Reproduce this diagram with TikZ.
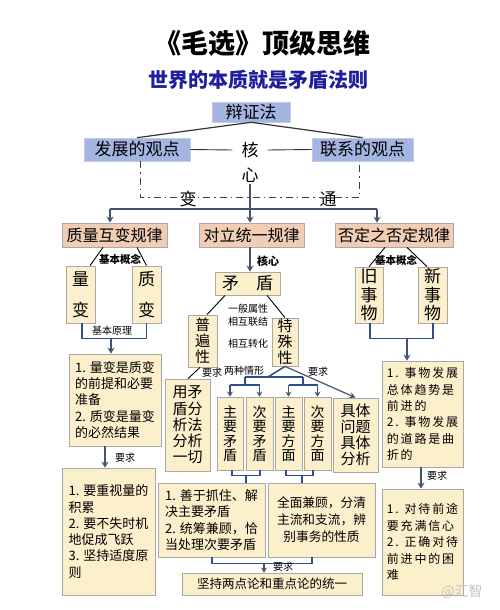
\documentclass[tikz,border=0pt]{standalone}
\usepackage{fontspec}
\setmainfont{Noto Sans CJK SC}
\newfontfamily\cjksp[LetterSpace=15]{Noto Sans CJK SC}
\usetikzlibrary{arrows.meta}
\definecolor{bluebox}{HTML}{A3B5E0}
\definecolor{peach}{HTML}{F1CDB6}
\definecolor{ylw}{HTML}{FCEFCB}
\definecolor{bdr}{HTML}{A8A8A8}
\definecolor{navy}{HTML}{2F4C92}
\definecolor{arr}{HTML}{45536E}
\definecolor{subt}{HTML}{1E1E9E}
\definecolor{wm}{HTML}{C4C4C4}
\begin{document}
\begin{tikzpicture}[x=1pt,y=-1pt,
  bbox/.style={fill=bluebox, draw=bluebox!70!white, line width=0.6pt, inner sep=0pt, font=\fontsize{17}{20}\selectfont},
  pbox/.style={fill=peach, draw=bdr, line width=0.8pt, inner sep=0pt, font=\fontsize{16}{19}\selectfont},
  ybox/.style={fill=ylw, draw=bdr, line width=0.8pt, inner sep=0pt, align=center},
  lbl/.style={inner sep=0pt, font=\fontsize{10}{12}\selectfont},
  arrw/.style={arr, line width=1.5pt, -{Stealth[length=6pt,width=7pt]}},
  arrs/.style={arr, line width=1.3pt, -{Stealth[length=5pt,width=6pt]}},
  brk/.style={navy, line width=1.5pt},
  conn/.style={black, line width=0.9pt},
]
\useasboundingbox (0,0) rectangle (500,610);
\fill[white] (0,0) rectangle (500,610);

% titles
\node[font=\fontsize{27}{30}\selectfont\bfseries] (title) at (262,43) {《毛选》顶级思维};
\node[font=\fontsize{20}{24}\selectfont\bfseries, text=subt] (sub) at (258,80) {世界的本质就是矛盾法则};

% top level
\node[bbox, minimum width=78pt, minimum height=20pt] (bz) at (251,112) {辩证法};
\node[bbox, minimum width=106pt, minimum height=23pt] (fz) at (137,149.5) {发展的观点};
\node[bbox, minimum width=101pt, minimum height=23pt] (lx) at (362.5,149.5) {联系的观点};
\node[inner xsep=9pt, inner ysep=1pt, font=\fontsize{17}{20}\selectfont] (he) at (250,150) {核};
\node[inner sep=1pt, font=\fontsize{17}{20}\selectfont] (xin) at (250,175) {心};
\node[inner sep=0pt, font=\fontsize{17}{20}\selectfont] (bian) at (188,199) {变};
\node[inner sep=0pt, font=\fontsize{17}{20}\selectfont] (tong) at (328,199) {通};

\draw[conn, line width=1.2pt, black!80] (bz.south) -- (fz.north);
\draw[conn, line width=1.2pt, black!80] (bz.south) -- (lx.north);
\draw[conn, black!80] (fz.east) -- (he.west);
\draw[conn, black!80] (he.east) -- (lx.west);
\draw[black!75, line width=1pt, dash pattern=on 7pt off 4pt on 1.5pt off 4pt]
  ([xshift=3pt]fz.south) -- ++(0,36) -| ([xshift=-3pt]lx.south);

% peach laws
\node[pbox, minimum width=105pt, minimum height=24pt] (zl) at (114.5,235) {质量互变规律};
\node[pbox, minimum width=105pt, minimum height=24pt] (dl) at (251.5,235) {对立统一规律};
\node[pbox, minimum width=118pt, minimum height=24pt] (fd) at (394,235) {否定之否定规律};

\coordinate (hl) at (110,209);
\coordinate (hr) at (377,209);
\draw[arr, line width=1.3pt] (hl) -- (hr);
\draw[arrw] (hl) -- (hl |- zl.north);
\draw[arrw] (hr) -- (hr |- fd.north);
\draw[arrw] (xin.south) -- ([xshift=-1.5pt]dl.north);

% ---------- left branch
\node[ybox, minimum width=29pt, minimum height=57pt, font=\fontsize{17}{31}\selectfont] (lb) at (80.5,294.5) {量\\变};
\node[ybox, minimum width=29pt, minimum height=57pt, font=\fontsize{17}{31}\selectfont] (zb) at (146.5,294.5) {质\\变};
\draw[conn] ([xshift=-11.5pt]zl.south) -- ([xshift=9.5pt]lb.north);
\draw[conn] ([xshift=22.5pt]zl.south) -- (zb.north);
\node[lbl, font=\fontsize{10.5}{12}\selectfont\bfseries] (jbgn1) at (120,259) {基本概念};
\draw[brk] ([xshift=1.5pt]lb.south) -- ++(0,15) -| (zb.south);
\node[lbl] (jbyl) at (112,331) {基本原理};
\coordinate (b5) at (111,338);

\node[ybox, align=left, minimum width=92pt, minimum height=92pt, font=\fontsize{13}{16.3}\selectfont] (ly1) at (115,400)
  {1. 量变是质变\\的前提和必要\\准备\\2. 质变是量变\\的必然结果};
\draw[arrw] (b5) -- (b5 |- ly1.north);
\node[ybox, align=left, minimum width=93pt, minimum height=127pt, font=\fontsize{13}{16.3}\selectfont] (ly2) at (108.5,531.5)
  {1. 要重视量的\\积累\\2. 要不失时机\\地促成飞跃\\3. 坚持适度原\\则};
\draw[arrw] ([xshift=-10pt]ly1.south) -- ([xshift=-3.5pt]ly2.north);
\node[lbl] (yq1) at (125,458) {要求};

% ---------- middle branch
\node[ybox, minimum width=65pt, minimum height=23pt, font=\fontsize{17}{20}\selectfont] (md) at (247.5,283.5) {矛\hspace{1em}盾};
\draw[arrw] ([xshift=-1.5pt]dl.south) -- ([xshift=2.5pt]md.north);
\node[lbl, font=\fontsize{11}{12}\selectfont\bfseries] (hx) at (268,261) {核心};
\node[ybox, minimum width=29pt, minimum height=52pt, font=\fontsize{15}{16}\selectfont] (pb) at (202.5,341) {普\\遍\\性};
\node[ybox, minimum width=26pt, minimum height=48pt, font=\fontsize{15}{16}\selectfont] (ts) at (285,342) {特\\殊\\性};
\draw[conn] ([xshift=-22.5pt]md.south) -- ([xshift=4.5pt]pb.north);
\draw[conn] ([xshift=19.5pt]md.south) -- (ts.north);
\node[lbl] (ybsx) at (248,309) {一般属性};
\node[lbl] (xhlj) at (248,322) {相互联结};
\node[lbl] (xhzh) at (248,344) {相互转化};

\node[ybox, minimum width=45pt, minimum height=92pt, font=\fontsize{15}{16.3}\selectfont] (yf) at (187.5,425)
  {用矛\\盾分\\析法\\分析\\一切};
\draw[conn] ([xshift=-2.5pt]pb.south) -- ([xshift=0.5pt]yf.north);
\node[lbl] (yq2) at (212,373) {要求};

\node[ybox, minimum width=26pt, minimum height=73pt, font=\fontsize{14}{14.5}\selectfont] (zm) at (230,433.5) {主\\要\\矛\\盾};
\node[ybox, minimum width=27pt, minimum height=73pt, font=\fontsize{14}{14.5}\selectfont] (cm) at (259.5,433.5) {次\\要\\矛\\盾};
\node[ybox, minimum width=27pt, minimum height=73pt, font=\fontsize{14}{14.5}\selectfont] (zf) at (288.5,433.5) {主\\要\\方\\面};
\node[ybox, minimum width=27pt, minimum height=73pt, font=\fontsize{14}{14.5}\selectfont] (cf) at (317.5,433.5) {次\\要\\方\\面};
\node[ybox, minimum width=45pt, minimum height=74pt, font=\fontsize{15}{16}\selectfont] (jt) at (355.5,435) {具体\\问题\\具体\\分析};

\coordinate (t0) at (268,377);
\coordinate (tl) at (245,377);
\coordinate (tr) at (303,377);
\coordinate (r2) at (0,385);
\draw[brk] (ts.south) -- (t0);
\draw[brk] (tl) -- (tr);
\draw[brk] (tl) -- (tl |- r2);
\draw[brk] (tr) -- (tr |- r2);
\draw[brk] (zm.north |- r2) -- (cm.north |- r2);
\draw[brk] (zf.north |- r2) -- (cf.north |- r2);
\draw[arrs] (zm.north |- r2) -- (zm.north);
\draw[arrs] (cm.north |- r2) -- (cm.north);
\draw[arrs] (zf.north |- r2) -- (zf.north);
\draw[arrs] (cf.north |- r2) -- (cf.north);
\node[lbl] (lzqx) at (244,371) {两种情形};
\draw[arr, line width=1.2pt, -{Stealth[length=6pt,width=6pt]}] (ts.south) -- (jt.north);
\node[lbl] (yq3) at (318,372) {要求};

\node[ybox, align=left, minimum width=107pt, minimum height=74pt, font=\fontsize{13}{16.5}\selectfont] (sy) at (211.5,520)
  {1. 善于抓住、解\\决主要矛盾\\2. 统筹兼顾，恰\\当处理次要矛盾};
\node[ybox, align=center, minimum width=107pt, minimum height=74pt, font=\fontsize{12.7}{17}\selectfont] (qm) at (321.5,520)
  {全面兼顾，分清\\主流和支流，辨\\别事务的性质};
\draw[brk, line width=1.3pt] ([xshift=2pt]zm.south) -- ++(0,5) -| ([xshift=0.5pt]cm.south);
\draw[brk, line width=1.3pt] ([xshift=-2.5pt]zf.south) -- ++(0,5) -| ([xshift=-4.5pt]cf.south);
\coordinate (b1) at (246,475);
\coordinate (b2) at (302,475);
\draw[brk, line width=1.3pt] (b1) -- (b1 |- sy.north);
\draw[brk, line width=1.3pt] (b2) -- (b2 |- qm.north);

\node[ybox, minimum width=180pt, minimum height=22pt, font=\fontsize{12.5}{15}\selectfont] (jc) at (272,584) {坚持两点论和重点论的统一};
\draw[brk] ([xshift=0.5pt]sy.south) -- ++(0,6) -| ([xshift=-9.5pt]qm.south);
\coordinate (b3) at (264,563);
\draw[arrs] (b3) -- (b3 |- jc.north);
\node[lbl] (yq4) at (283,567) {要求};

% ---------- right branch
\node[ybox, minimum width=28pt, minimum height=56pt, font=\fontsize{17}{18.5}\selectfont] (jw) at (369,295) {旧\\事\\物};
\node[ybox, minimum width=29pt, minimum height=56pt, font=\fontsize{17}{18.5}\selectfont] (xw) at (432.5,295) {新\\事\\物};
\draw[conn] ([xshift=-9pt]fd.south) -- (jw.north);
\draw[conn] ([xshift=13pt]fd.south) -- ([xshift=-5.5pt]xw.north);
\node[lbl, font=\fontsize{10.5}{12}\selectfont\bfseries] (jbgn2) at (396,260) {基本概念};
\draw[brk] ([xshift=1pt]jw.south) -- ++(0,15) -| ([xshift=0.5pt]xw.south);
\coordinate (b4) at (407,338);

\node[ybox, align=left, minimum width=81pt, minimum height=106pt, font=\cjksp\fontsize{12}{16.4}\selectfont] (sf) at (422.5,414)
  {1. 事物发展\\总体趋势是\\前进的\\2. 事物发展\\的道路是曲\\折的};
\draw[arrw] (b4) -- (b4 |- sf.north);
\node[ybox, align=left, minimum width=81pt, minimum height=106pt, font=\cjksp\fontsize{12}{16.4}\selectfont] (dd) at (422.5,542)
  {1. 对待前途\\要充满信心\\2. 正确对待\\前进中的困\\难};
\draw[arrw] ([xshift=-1.5pt]sf.south) -- ([xshift=-1.5pt]dd.north);
\node[lbl] (yq5) at (437,476) {要求};

% watermark
\node[inner sep=0pt, text=wm, font=\fontsize{14}{16}\selectfont] (wmk) at (462,592) {@汇智};
\end{tikzpicture}
\end{document}
